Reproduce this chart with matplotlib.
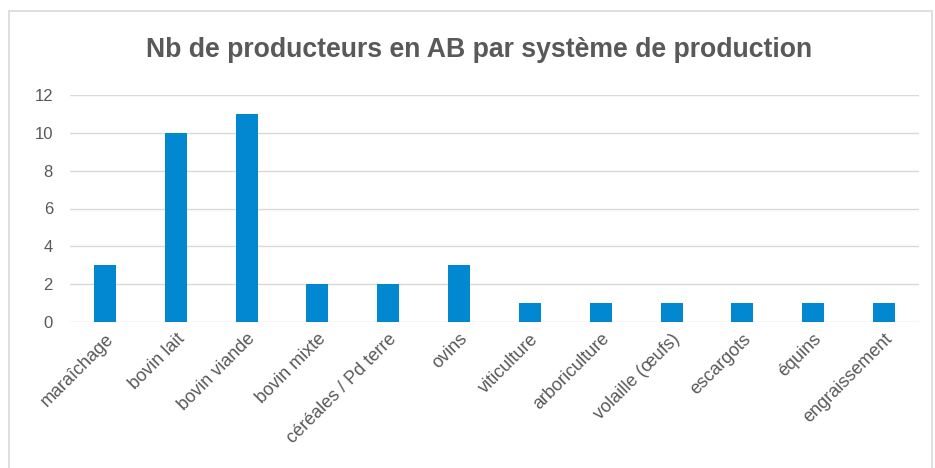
import matplotlib.pyplot as plt
from matplotlib.patches import Rectangle

categories = ["maraîchage", "bovin lait", "bovin viande", "bovin mixte",
              "céréales / Pd terre", "ovins", "viticulture", "arboriculture",
              "volaille (œufs)", "escargots", "équins", "engraissement"]
values = [3, 10, 11, 2, 2, 3, 1, 1, 1, 1, 1, 1]
yticks = [0, 2, 4, 6, 8, 10, 12]

W, H = 935, 468
plt.rcParams['font.family'] = ['Liberation Sans', 'DejaVu Sans']
fig = plt.figure(figsize=(W / 100, H / 100), dpi=100)

# cadre gris du graphique
fig.patches.append(Rectangle((9 / W, -0.05), (932 - 9) / W, 1.05 - 11 / H,
                             transform=fig.transFigure, fill=False,
                             edgecolor="#d9d9d9", linewidth=1.2))

ax = fig.add_axes([69.6 / W, 1 - 322 / H, (919.4 - 69.6) / W, (322 - 95) / H])
x = range(len(categories))
ax.bar(x, values, width=0.31, color="#0288d1", zorder=3)

ax.set_xlim(-0.5, len(categories) - 0.5)
ax.set_ylim(0, 12)
ax.set_yticks(yticks)
ax.yaxis.grid(True, color="#d9d9d9", linewidth=1)
ax.set_axisbelow(True)
for s in ax.spines.values():
    s.set_visible(False)
ax.tick_params(axis="both", length=0, colors="#595959")
ax.tick_params(axis="y", pad=12, labelsize=12)
ax.set_xticks(list(x))
ax.set_xticklabels(categories, rotation=45, ha="right", rotation_mode="anchor")
ax.tick_params(axis="x", pad=6, labelsize=13)

fig.text(479 / W, 1 - 57 / H, "Nb de producteurs en AB par système de production",
         ha="center", va="baseline", fontsize=19.2, fontweight="bold", color="#595959")

fig.savefig("out.png", dpi=100)
